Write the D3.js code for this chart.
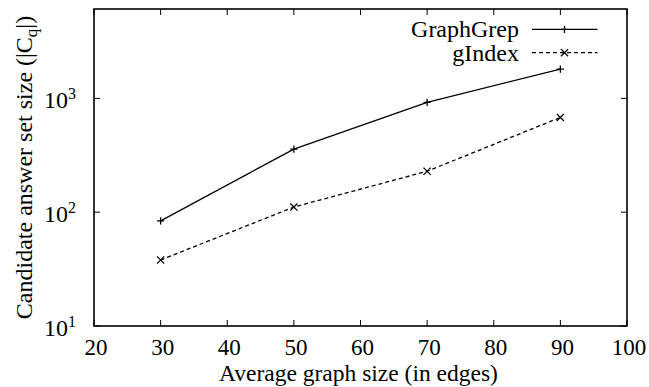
<!DOCTYPE html>
<html lang="en">
<head>
<meta charset="UTF-8">
<title>Candidate answer set size</title>
<script src="https://d3js.org/d3.v7.min.js"></script>
<style>
    body { margin: 0; background: #fff; }
    text { font-family: 'Liberation Serif', 'Times New Roman', Times, 'DejaVu Serif', serif; }
</style>
</head>
<body>
<div class="container"></div>
<script>
    // data
    const edges = [30, 50, 70, 90];
    const graphGrep = [84, 358, 923, 1810];
    const gIndex = [38, 111, 229, 680];
    const xTicks = [20, 30, 40, 50, 60, 70, 80, 90, 100];
    const yTicks = [10, 100, 1000];

    const width = 649, height = 387;
    const margin = {top: 9, right: 22, bottom: 61, left: 94};
    const fs = 24;

    const svg = d3.select(".container")
        .append("svg")
        .attr("width", width)
        .attr("height", height);

    const x = d3.scaleLinear()
        .domain([20, 100])
        .range([margin.left, width - margin.right]);

    const y = d3.scaleLog()
        .domain([10, 6100])
        .range([height - margin.bottom, margin.top]);

    const x0 = x.range()[0], x1 = x.range()[1];
    const y0 = y.range()[0], y1 = y.range()[1];
    const tickLen = 6;

    // ticks on all four sides, pointing inwards
    const ticks = svg.append("g").attr("stroke", "#000").attr("stroke-width", 1);
    xTicks.forEach(t => {
        ticks.append("line").attr("x1", x(t)).attr("x2", x(t)).attr("y1", y0).attr("y2", y0 - tickLen);
        ticks.append("line").attr("x1", x(t)).attr("x2", x(t)).attr("y1", y1).attr("y2", y1 + tickLen);
    });
    yTicks.forEach(t => {
        ticks.append("line").attr("x1", x0).attr("x2", x0 + tickLen).attr("y1", y(t)).attr("y2", y(t));
        ticks.append("line").attr("x1", x1).attr("x2", x1 - tickLen).attr("y1", y(t)).attr("y2", y(t));
    });

    // frame
    svg.append("rect")
        .attr("x", x0).attr("y", y1)
        .attr("width", x1 - x0).attr("height", y0 - y1)
        .attr("fill", "none")
        .attr("stroke", "#000")
        .attr("stroke-width", 1.6);

    // x tick labels
    svg.append("g")
        .selectAll("text")
        .data(xTicks)
        .join("text")
        .attr("x", d => x(d) + 2)
        .attr("y", 354.5)
        .attr("text-anchor", "middle")
        .attr("font-size", 23)
        .text(d => d);

    // y tick labels 10^n
    const yl = svg.append("g")
        .selectAll("text")
        .data(yTicks)
        .join("text")
        .attr("x", x0 - 18)
        .attr("y", d => y(d) + 9.5)
        .attr("text-anchor", "end")
        .attr("font-size", fs);
    yl.append("tspan").text("10");
    yl.append("tspan")
        .attr("font-size", 16)
        .attr("dy", -9)
        .text(d => Math.round(Math.log10(d)));

    // axis titles
    svg.append("text")
        .attr("x", 358.5)
        .attr("y", 380.5)
        .attr("text-anchor", "middle")
        .attr("font-size", 23.5)
        .text("Average graph size (in edges)");

    const yt = svg.append("text")
        .attr("transform", `translate(32,${(y0 + y1) / 2}) rotate(-90)`)
        .attr("text-anchor", "middle")
        .attr("font-size", fs);
    yt.append("tspan").text("Candidate answer set size (|C");
    yt.append("tspan").attr("font-size", 17).attr("dy", 5).text("q");
    yt.append("tspan").attr("dy", -5).text("|)");

    const line = d3.line()
        .x((d, i) => x(edges[i]))
        .y(d => y(d));

    const series = [
        {name: "GraphGrep", values: graphGrep, dash: null, mark: "plus"},
        {name: "gIndex", values: gIndex, dash: "4,3", mark: "cross"}
    ];

    const s = 3.6;
    function marker(g, cx, cy, type) {
        if (type === "plus") {
            g.append("path").attr("d", `M${cx - s},${cy}H${cx + s}M${cx},${cy - s}V${cy + s}`);
        } else {
            g.append("path").attr("d", `M${cx - s},${cy - s}L${cx + s},${cy + s}M${cx - s},${cy + s}L${cx + s},${cy - s}`);
        }
    }

    series.forEach((sr, k) => {
        svg.append("path")
            .datum(sr.values)
            .attr("d", line)
            .attr("fill", "none")
            .attr("stroke", "#000")
            .attr("stroke-width", 1.3)
            .attr("stroke-dasharray", sr.dash);
        const mg = svg.append("g").attr("stroke", "#000").attr("stroke-width", 1.3);
        sr.values.forEach((v, i) => marker(mg, x(edges[i]), y(v), sr.mark));

        // legend row
        const ly = 29.3 + k * 23.4;
        svg.append("text")
            .attr("x", 519)
            .attr("y", ly + 8)
            .attr("text-anchor", "end")
            .attr("font-size", fs)
            .text(sr.name);
        svg.append("line")
            .attr("x1", 532).attr("x2", 597.5)
            .attr("y1", ly).attr("y2", ly)
            .attr("stroke", "#000")
            .attr("stroke-width", 1.3)
            .attr("stroke-dasharray", sr.dash);
        const lg = svg.append("g").attr("stroke", "#000").attr("stroke-width", 1.3);
        marker(lg, 564.5, ly, sr.mark);
    });
</script>
</body>
</html>
